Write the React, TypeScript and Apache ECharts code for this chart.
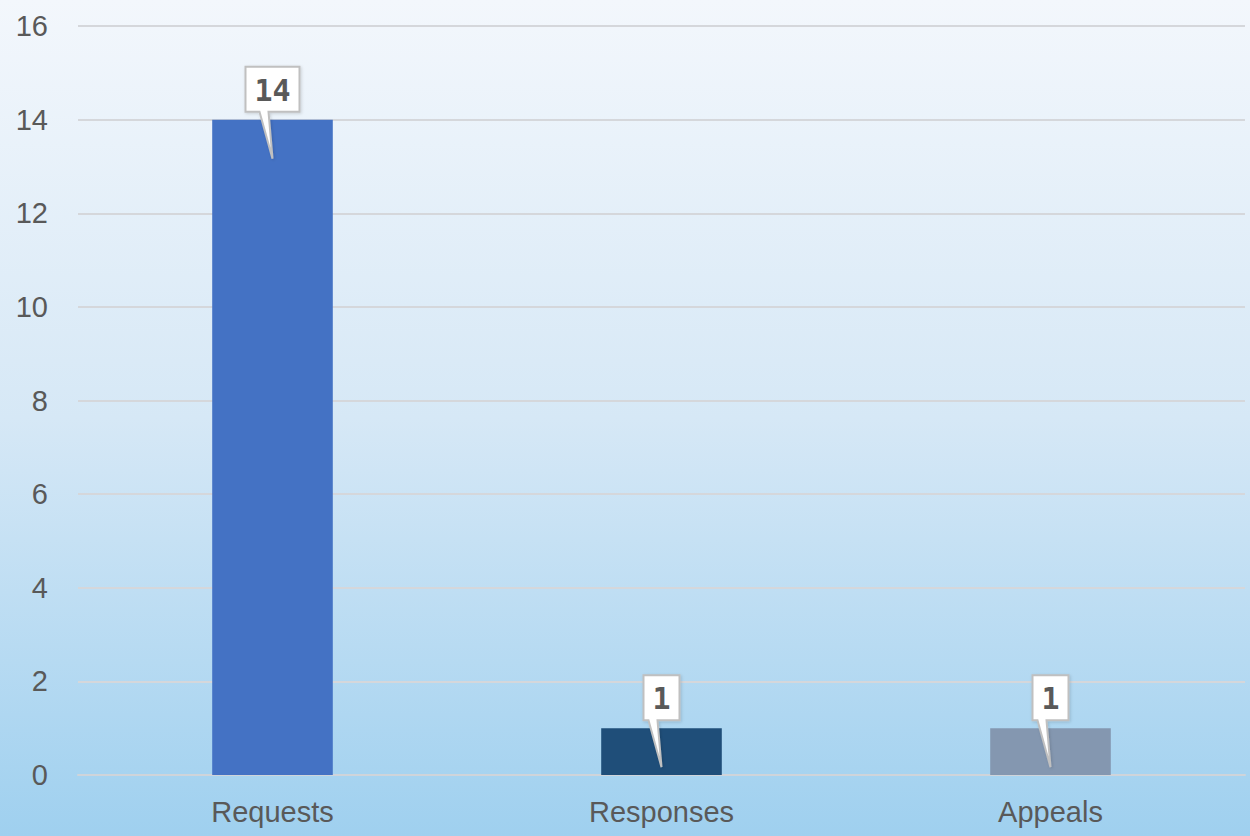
import React, { useEffect, useRef } from "react";
import * as echarts from "echarts";

const categories = ["Requests", "Responses", "Appeals"];
const values = [14, 1, 1];
const barColors = ["#4472C4", "#1F4E79", "#8497B0"];
const yTicks = { min: 0, max: 16, interval: 2 };

export default function App() {
  const ref = useRef<HTMLDivElement>(null);
  useEffect(() => {
    const chart = echarts.init(ref.current!, null, { renderer: "svg" });
    chart.setOption({
      animation: false,
      backgroundColor: new echarts.graphic.LinearGradient(0, 0, 0, 1, [
        { offset: 0, color: "#f3f7fc" },
        { offset: 0.5, color: "#d6e8f6" },
        { offset: 1, color: "#9fd0ef" },
      ]),
      grid: { left: 78, right: 5, top: 26, bottom: 61 },
      xAxis: {
        type: "category",
        data: categories,
        axisLine: { show: true, lineStyle: { color: "#cfd4da", width: 2 } },
        axisTick: { show: false },
        axisLabel: {
          color: "#595959",
          fontSize: 29,
          fontFamily: "Liberation Sans",
          margin: 22,
        },
      },
      yAxis: {
        type: "value",
        min: yTicks.min,
        max: yTicks.max,
        interval: yTicks.interval,
        axisLine: { show: false },
        axisTick: { show: false },
        splitLine: { lineStyle: { color: "#d5d7db", width: 2 } },
        axisLabel: {
          color: "#595959",
          fontSize: 29,
          fontFamily: "Liberation Sans",
          margin: 30,
        },
      },
      series: [
        {
          type: "bar",
          barWidth: "31%",
          data: values.map((v, i) => ({ value: v, itemStyle: { color: barColors[i] } })),
          z: 2,
        },
        {
          type: "custom",
          z: 5,
          clip: false,
          data: values.map((v, i) => [i, v]),
          renderItem: (params: any, api: any) => {
            const idx = api.value(0);
            const val = api.value(1);
            const p = api.coord([idx, val]);
            const cx = p[0];
            const by = p[1];
            const label = String(val);
            const w = label.length === 1 ? 36 : 54;
            const h = 45;
            const bottom = by - 8;
            const topY = bottom - h;
            return {
              type: "group",
              children: [
                {
                  type: "polygon",
                  shape: {
                    points: [
                      [cx - w / 2, topY],
                      [cx + w / 2, topY],
                      [cx + w / 2, bottom],
                      [cx - 4, bottom],
                      [cx, by + 39],
                      [cx - 13, bottom],
                      [cx - w / 2, bottom],
                    ],
                  },
                  style: {
                    fill: "#ffffff",
                    stroke: "#c0c0c0",
                    lineWidth: 2,
                    shadowBlur: 3,
                    shadowColor: "rgba(0,0,0,0.15)",
                    shadowOffsetX: 1,
                    shadowOffsetY: 1,
                  },
                },
                {
                  type: "text",
                  x: cx,
                  y: (topY + bottom) / 2 + 1,
                  style: {
                    text: label,
                    fill: "#595959",
                    font: "bold 30px 'DejaVu Sans Mono'",
                    align: "center",
                    verticalAlign: "middle",
                  },
                },
              ],
            };
          },
        },
      ],
    });
    return () => chart.dispose();
  }, []);
  return (
    <div
      ref={ref}
      style={{ position: "fixed", left: 0, top: 0, width: 1250, height: 836 }}
    />
  );
}
